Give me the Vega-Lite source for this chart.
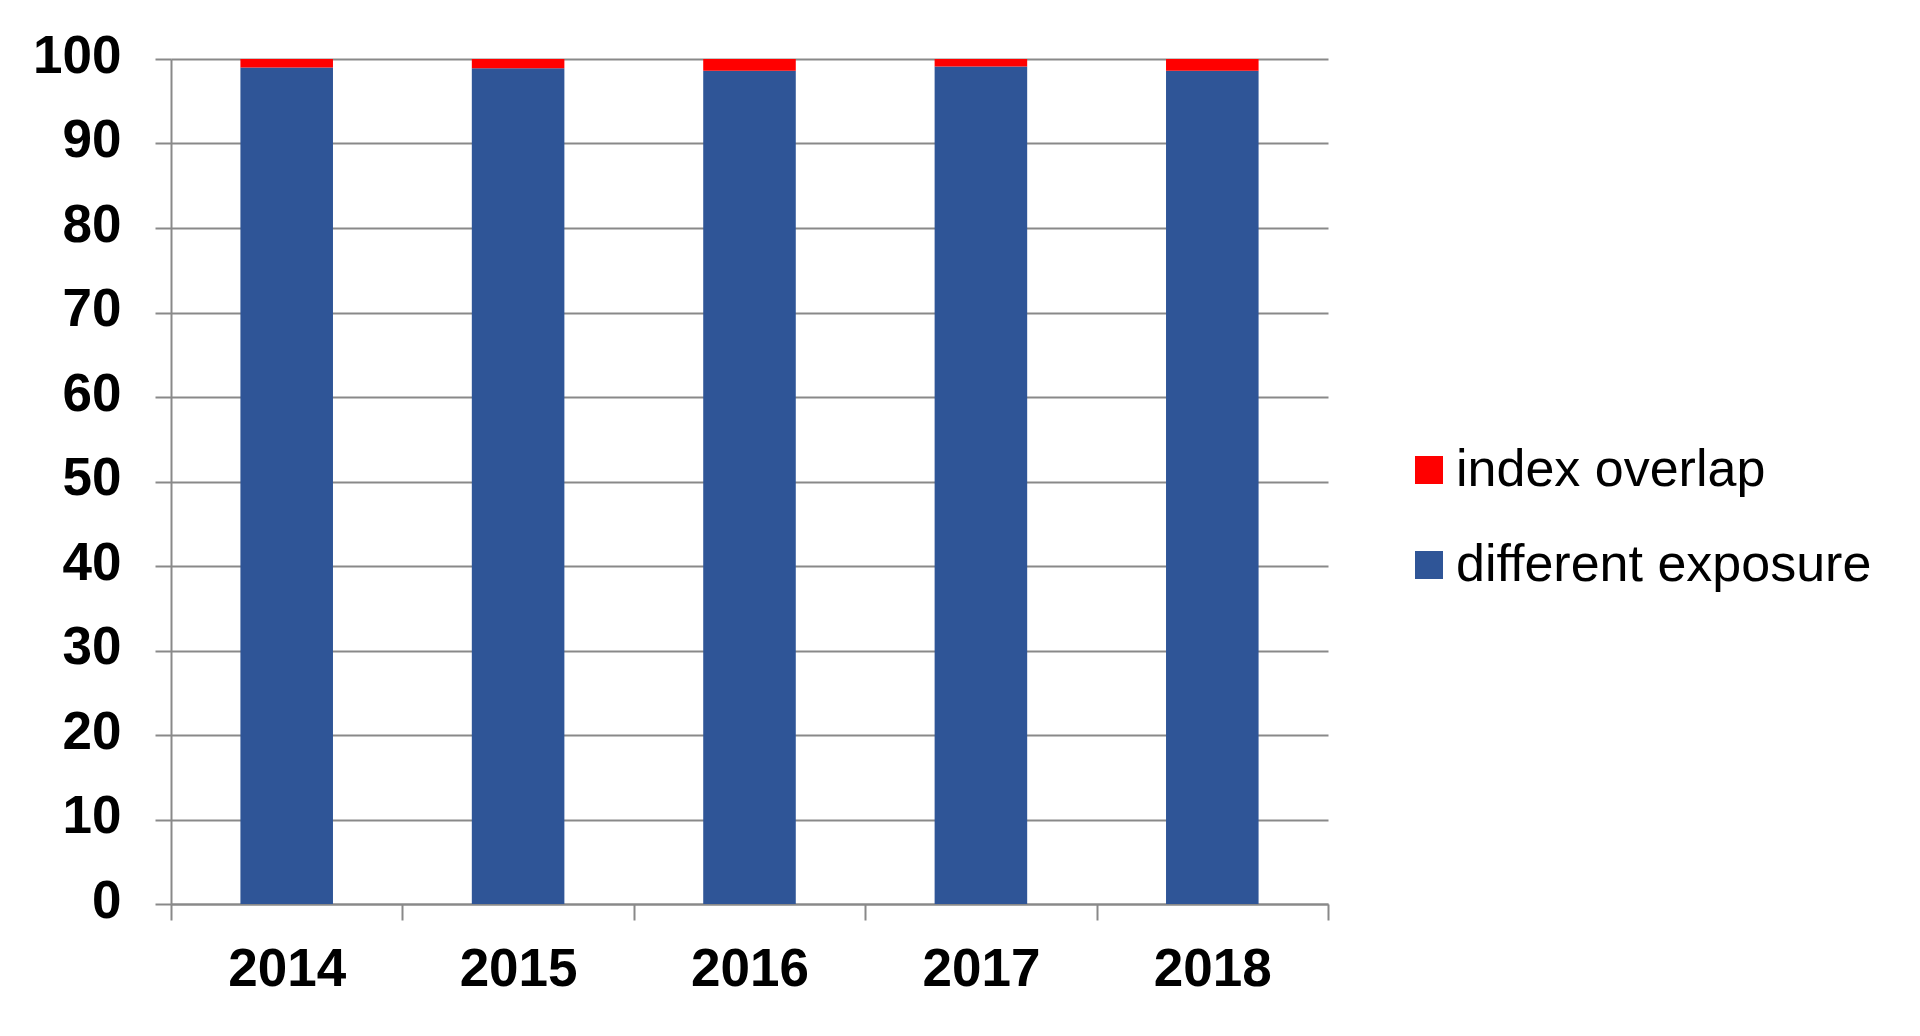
{
  "$schema": "https://vega.github.io/schema/vega-lite/v6.json",
  "width": 1157,
  "height": 845,
  "autosize": {"type": "none"},
  "padding": {"left": 171, "top": 59, "right": 592, "bottom": 132},
  "background": "white",
  "data": {
    "values": [
      {"year": "2014", "category": "different exposure", "value": 99.0},
      {"year": "2014", "category": "index overlap", "value": 1.0},
      {"year": "2015", "category": "different exposure", "value": 98.9},
      {"year": "2015", "category": "index overlap", "value": 1.1},
      {"year": "2016", "category": "different exposure", "value": 98.6},
      {"year": "2016", "category": "index overlap", "value": 1.4},
      {"year": "2017", "category": "different exposure", "value": 99.1},
      {"year": "2017", "category": "index overlap", "value": 0.9},
      {"year": "2018", "category": "different exposure", "value": 98.6},
      {"year": "2018", "category": "index overlap", "value": 1.4}
    ]
  },
  "mark": {"type": "bar", "strokeWidth": 0, "width": {"band": 0.4}},
  "encoding": {
    "x": {
      "field": "year",
      "type": "nominal",
      "title": null,
      "scale": {"paddingInner": 0, "paddingOuter": 0},
      "axis": {
        "labelAngle": 0,
        "tickBand": "extent",
        "tickSize": 16,
        "labelPadding": 23,
        "labelBaseline": "top"
      }
    },
    "y": {
      "field": "value",
      "type": "quantitative",
      "stack": "zero",
      "title": null,
      "scale": {"domain": [0, 100], "nice": false},
      "axis": {
        "values": [0, 10, 20, 30, 40, 50, 60, 70, 80, 90, 100],
        "tickSize": 16,
        "labelPadding": 34,
        "labelOffset": -3,
        "labelBaseline": "middle"
      }
    },
    "color": {
      "field": "category",
      "type": "nominal",
      "scale": {
        "domain": ["index overlap", "different exposure"],
        "range": ["#FF0000", "#2F5597"]
      },
      "legend": {
        "title": null,
        "orient": "none",
        "legendX": 1232,
        "legendY": 385,
        "symbolType": "square",
        "symbolSize": 784,
        "symbolStrokeWidth": 0,
        "labelFontSize": 52,
        "labelFont": "Liberation Sans",
        "labelColor": "black",
        "labelLimit": 0,
        "labelOffset": 1,
        "rowPadding": 43
      }
    },
    "order": {"field": "category", "sort": "ascending"}
  },
  "config": {
    "view": {"stroke": null},
    "axis": {
      "domainColor": "#898989",
      "domainWidth": 2,
      "tickColor": "#898989",
      "tickWidth": 2,
      "gridColor": "#898989",
      "gridWidth": 2,
      "labelFont": "Liberation Sans",
      "labelFontSize": 53,
      "labelFontWeight": "bold",
      "labelColor": "black"
    },
    "axisX": {"grid": false},
    "axisY": {"grid": true}
  }
}
